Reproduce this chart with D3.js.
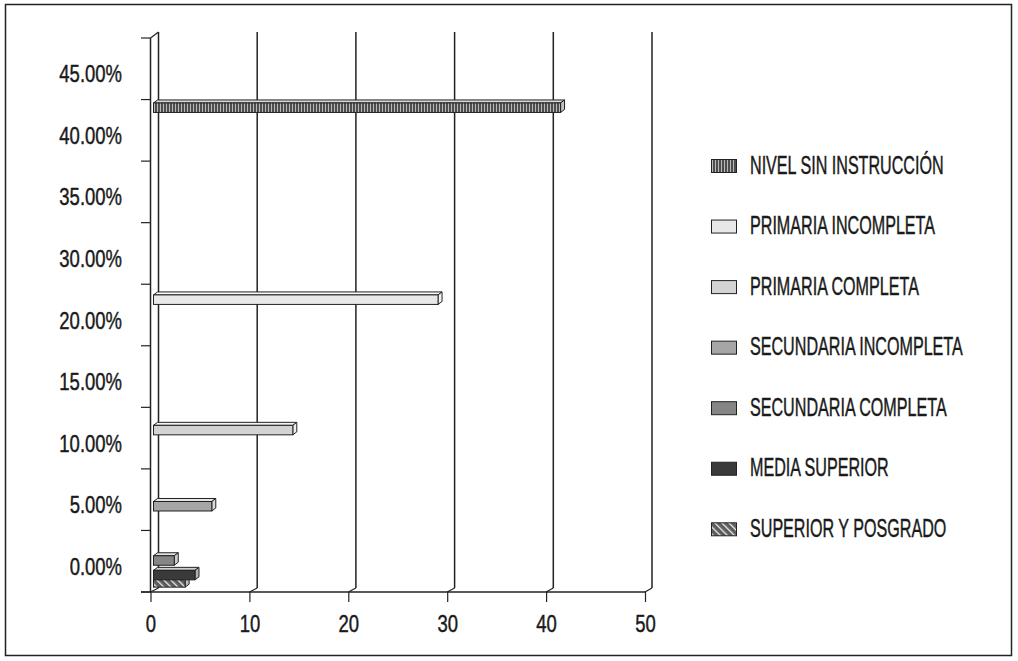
<!DOCTYPE html>
<html>
<head>
<meta charset="utf-8">
<script src="https://cdn.jsdelivr.net/npm/d3@7"></script>
<style>
  html, body { margin: 0; padding: 0; background: #fff; }
  svg text { font-family: "Liberation Sans", Arial, sans-serif; fill: #1a1a1a; stroke: #1a1a1a; stroke-width: 0.45px; }
</style>
</head>
<body>
<script>
// Category labels along the vertical axis
const yCategories = ["45.00%", "40.00%", "35.00%", "30.00%", "20.00%", "15.00%", "10.00%", "5.00%", "0.00%"];

// Series (education level), their values and the category each one sits in
const seriesNames = [
  "NIVEL SIN INSTRUCCIÓN",
  "PRIMARIA INCOMPLETA",
  "PRIMARIA COMPLETA",
  "SECUNDARIA INCOMPLETA",
  "SECUNDARIA COMPLETA",
  "MEDIA SUPERIOR",
  "SUPERIOR Y POSGRADO"
];
const seriesValues = [41.2, 28.8, 14.1, 5.9, 2.1, 4.2, 3.2];
const seriesCategory = ["40.00%", "20.00%", "10.00%", "5.00%", "0.00%", "0.00%", "0.00%"];

// Order in which series are stacked inside a category band
const slotOrder = [
  "NIVEL SIN INSTRUCCIÓN",
  "PRIMARIA INCOMPLETA",
  "PRIMARIA COMPLETA",
  "SECUNDARIA COMPLETA",
  "SECUNDARIA INCOMPLETA",
  "MEDIA SUPERIOR",
  "SUPERIOR Y POSGRADO"
];

// Horizontal axis ticks
const xTicks = [0, 10, 20, 30, 40, 50];

const W = 1018, H = 661;
const svg = d3.select("body").append("svg").attr("width", W).attr("height", H);

// Pattern fills
const defs = svg.append("defs");
const vs = defs.append("pattern").attr("id", "vstripes").attr("patternUnits", "userSpaceOnUse")
  .attr("width", 3).attr("height", 6);
vs.append("rect").attr("width", 3).attr("height", 6).attr("fill", "#4e4e4e");
vs.append("rect").attr("x", 1).attr("width", 1).attr("height", 6).attr("fill", "#b8b8b8");

const ds = defs.append("pattern").attr("id", "dstripes").attr("patternUnits", "userSpaceOnUse")
  .attr("width", 5).attr("height", 5).attr("patternTransform", "rotate(-45)");
ds.append("rect").attr("width", 5).attr("height", 5).attr("fill", "#5c5c5c");
ds.append("rect").attr("x", 0).attr("width", 1.3).attr("height", 5).attr("fill", "#f2f2f2");

const fills = {
  "NIVEL SIN INSTRUCCIÓN": { face: "url(#vstripes)", base: "#666666" },
  "PRIMARIA INCOMPLETA": { face: "#e8e8e8", base: "#e8e8e8" },
  "PRIMARIA COMPLETA": { face: "#d3d3d3", base: "#d3d3d3" },
  "SECUNDARIA INCOMPLETA": { face: "#a6a6a6", base: "#a6a6a6" },
  "SECUNDARIA COMPLETA": { face: "#858585", base: "#858585" },
  "MEDIA SUPERIOR": { face: "#3a3a3a", base: "#3a3a3a" },
  "SUPERIOR Y POSGRADO": { face: "url(#dstripes)", base: "#5c5c5c" }
};

// Outer frame
svg.append("rect").attr("x", 5.5).attr("y", 4.5).attr("width", 1006).attr("height", 651)
  .attr("fill", "#fff").attr("stroke", "#222").attr("stroke-width", 1.5);

// Scales: front plane, back wall and mid-depth plane for bars
const yFront = d3.scaleBand().domain(yCategories).range([38, 592]);
const xFront = d3.scaleLinear().domain([0, 50]).range([150.5, 645]);
const xBack = d3.scaleLinear().domain([0, 50]).range([158.5, 652]);
const xBar = d3.scaleLinear().domain([0, 50]).range([153.5, 647.5]);
const backTop = 32, backBottom = 588, frontTop = 38, frontBottom = 592;

const ink = "#222";

// Back-wall gridlines and floor edges
const grid = svg.append("g");
grid.selectAll("line.gl").data(xTicks).join("line").attr("class", "gl")
  .attr("x1", d => xBack(d)).attr("x2", d => xBack(d))
  .attr("y1", backTop).attr("y2", backBottom)
  .attr("stroke", ink).attr("stroke-width", 1.5);
grid.selectAll("line.fl").data(xTicks).join("line").attr("class", "fl")
  .attr("x1", d => xFront(d)).attr("x2", d => xBack(d))
  .attr("y1", frontBottom).attr("y2", backBottom)
  .attr("stroke", ink).attr("stroke-width", 1.2);

// Left wall edge and vertical axis
const yAxis = svg.append("g");
yAxis.append("line").attr("x1", xFront(0)).attr("x2", xBack(0)).attr("y1", frontTop).attr("y2", backTop)
  .attr("stroke", ink).attr("stroke-width", 1.2);
yAxis.append("line").attr("x1", xFront(0)).attr("x2", xFront(0)).attr("y1", frontTop).attr("y2", frontBottom)
  .attr("stroke", ink).attr("stroke-width", 1.5);
const yTickPos = yCategories.map(c => yFront(c)).concat([frontBottom]);
yAxis.selectAll("line.tk").data(yTickPos).join("line").attr("class", "tk")
  .attr("x1", 141).attr("x2", xFront(0)).attr("y1", d => d).attr("y2", d => d)
  .attr("stroke", ink).attr("stroke-width", 1.2);
yAxis.selectAll("text").data(yCategories).join("text")
  .attr("transform", d => `translate(122,${yFront(d) + yFront.bandwidth() / 2 + 13.5}) scale(0.77,1)`)
  .attr("text-anchor", "end").attr("font-size", 24)
  .text(d => d);

// Horizontal axis
const xAxisG = svg.append("g").attr("transform", `translate(0,${frontBottom})`)
  .call(d3.axisBottom(xFront).tickValues(xTicks).tickSize(10).tickPadding(13).tickSizeOuter(0));
xAxisG.attr("font-family", null);
xAxisG.select(".domain").remove();
xAxisG.selectAll(".tick line").attr("stroke", ink).attr("stroke-width", 1.2);
xAxisG.selectAll(".tick text").attr("font-size", 24).attr("fill", "#1a1a1a")
  .attr("transform", "scale(0.77,1)");
svg.append("line").attr("x1", 141).attr("x2", xFront(50)).attr("y1", frontBottom).attr("y2", frontBottom)
  .attr("stroke", ink).attr("stroke-width", 1.5);

// 3D bars
const slot = d3.scaleBand().domain(slotOrder);
const bars = seriesNames.map((name, i) => ({ name, value: seriesValues[i], cat: seriesCategory[i] }));
const barH = 9.5, depthX = 4, depthY = 3;
const lighten = (c, t) => d3.interpolateRgb(c, "#ffffff")(t);

const barG = svg.append("g");
bars.slice().sort((a, b) => slotOrder.indexOf(b.name) - slotOrder.indexOf(a.name)).forEach(b => {
  const bandStart = yFront(b.cat);
  slot.range([bandStart + 3.4, bandStart + 3.4 + 7 * 7.3]);
  const y = slot(b.name);
  const x0 = xBar(0), x1 = xBar(b.value);
  const f = fills[b.name];
  const g = barG.append("g");
  // top face
  g.append("polygon")
    .attr("points", [[x0, y], [x0 + depthX, y - depthY], [x1 + depthX, y - depthY], [x1, y]].join(" "))
    .attr("fill", lighten(f.base, 0.75)).attr("stroke", ink).attr("stroke-width", 1).attr("stroke-linejoin", "round");
  // end face
  g.append("polygon")
    .attr("points", [[x1, y], [x1 + depthX, y - depthY], [x1 + depthX, y + barH - depthY], [x1, y + barH]].join(" "))
    .attr("fill", lighten(f.base, 0.6)).attr("stroke", ink).attr("stroke-width", 1).attr("stroke-linejoin", "round");
  // front face
  g.append("rect").attr("x", x0).attr("y", y).attr("width", x1 - x0).attr("height", barH)
    .attr("fill", f.face).attr("stroke", ink).attr("stroke-width", 1);
});

// Legend
const legend = svg.append("g");
const legY0 = 173.5, legStep = 60.55;
seriesNames.forEach((name, i) => {
  const by = legY0 + i * legStep;
  legend.append("rect").attr("x", 711.5).attr("y", by - 14).attr("width", 25).attr("height", 13)
    .attr("fill", fills[name].face).attr("stroke", ink).attr("stroke-width", 1);
  legend.append("text").attr("transform", `translate(750,${by}) scale(0.645,1)`)
    .attr("font-size", 25).text(name);
});
</script>
</body>
</html>
